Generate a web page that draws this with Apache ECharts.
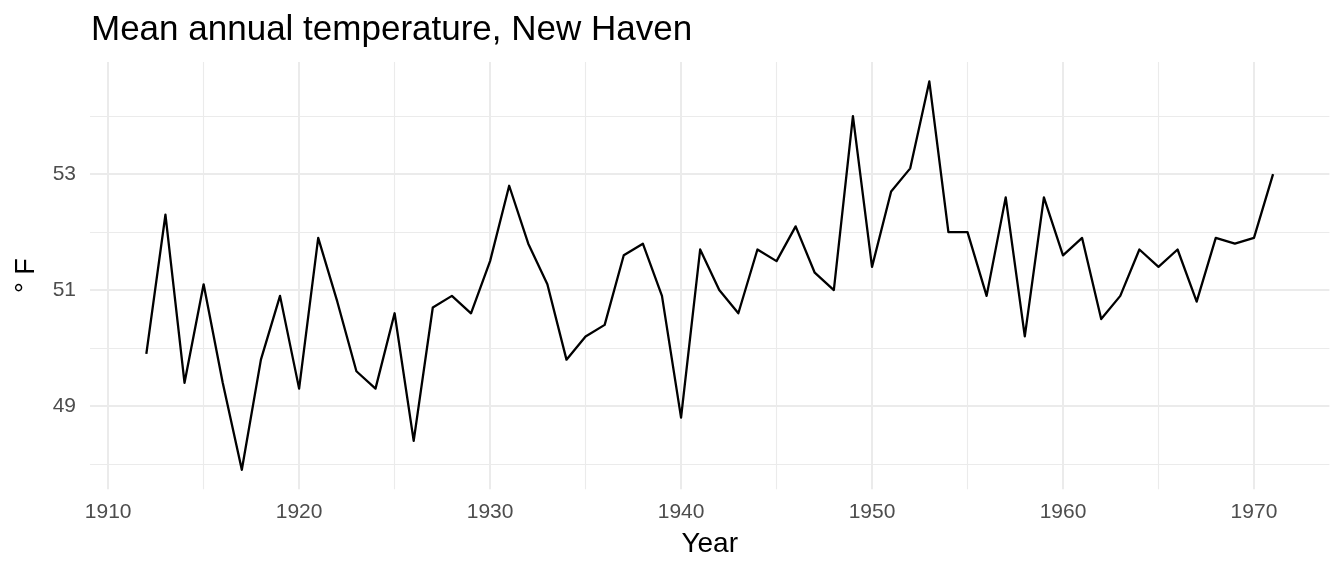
<!DOCTYPE html>
<html>
<head>
<meta charset="utf-8">
<script src="https://cdn.jsdelivr.net/npm/echarts@6/dist/echarts.min.js"></script>
<style>html,body{margin:0;padding:0;background:#fff;}#c{width:1344px;height:576px;}</style>
</head>
<body>
<div id="c"></div>
<script>
const years = [1912,1913,1914,1915,1916,1917,1918,1919,1920,1921,1922,1923,1924,1925,1926,1927,1928,1929,1930,1931,1932,1933,1934,1935,1936,1937,1938,1939,1940,1941,1942,1943,1944,1945,1946,1947,1948,1949,1950,1951,1952,1953,1954,1955,1956,1957,1958,1959,1960,1961,1962,1963,1964,1965,1966,1967,1968,1969,1970,1971];
const temps = [49.9,52.3,49.4,51.1,49.4,47.9,49.8,50.9,49.3,51.9,50.8,49.6,49.3,50.6,48.4,50.7,50.9,50.6,51.5,52.8,51.8,51.1,49.8,50.2,50.4,51.6,51.8,50.9,48.8,51.7,51.0,50.6,51.7,51.5,52.1,51.3,51.0,54.0,51.4,52.7,53.1,54.6,52.0,52.0,50.9,52.6,50.2,52.6,51.6,51.9,50.5,50.9,51.7,51.4,51.7,50.8,51.9,51.8,51.9,53.0];
const xMajor = [1910,1920,1930,1940,1950,1960,1970];
const xMinor = [1915,1925,1935,1945,1955,1965];
const yMajor = [49,51,53];
const yMinor = [48,50,52,54];

const xMin = 1909.05, xMax = 1973.95;
const yMin = 47.565, yMax = 54.935;
const FONT = 'Liberation Sans';

const chart = echarts.init(document.getElementById('c'), null, {renderer: 'canvas'});
const gridColor = '#ebebeb';
chart.setOption({
  animation: false,
  backgroundColor: '#ffffff',
  title: {
    text: 'Mean annual temperature, New Haven',
    left: 86, top: 8,
    textStyle: {fontFamily: FONT, fontSize: 35, fontWeight: 'normal', color: '#000'}
  },
  grid: {left: 90, right: 14.6, top: 62, bottom: 86.8, containLabel: false},
  xAxis: [
    {
      type: 'value', min: xMin, max: xMax,
      name: 'Year', nameLocation: 'middle', nameGap: 41,
      nameTextStyle: {fontFamily: FONT, fontSize: 28, color: '#000'},
      axisLine: {show: false},
      axisTick: {show: false, customValues: xMajor},
      axisLabel: {customValues: xMajor, formatter: v => String(v), fontFamily: FONT, fontSize: 21, color: '#4d4d4d', margin: 13},
      splitLine: {show: true, lineStyle: {color: gridColor, width: 2}}
    },
    {
      type: 'value', min: xMin, max: xMax, position: 'bottom',
      axisLine: {show: false},
      axisTick: {show: false, customValues: xMinor},
      axisLabel: {show: false, customValues: xMinor},
      splitLine: {show: true, lineStyle: {color: gridColor, width: 1.1}}
    }
  ],
  yAxis: [
    {
      type: 'value', min: yMin, max: yMax,
      name: '° F', nameLocation: 'middle', nameGap: 50, nameRotate: 90,
      nameTextStyle: {fontFamily: FONT, fontSize: 27, color: '#000'},
      axisLine: {show: false},
      axisTick: {show: false, customValues: yMajor},
      axisLabel: {customValues: yMajor, formatter: v => String(v), fontFamily: FONT, fontSize: 21, color: '#4d4d4d', margin: 14},
      splitLine: {show: true, lineStyle: {color: gridColor, width: 2}}
    },
    {
      type: 'value', min: yMin, max: yMax, position: 'left',
      axisLine: {show: false},
      axisTick: {show: false, customValues: yMinor},
      axisLabel: {show: false, customValues: yMinor},
      splitLine: {show: true, lineStyle: {color: gridColor, width: 1.1}}
    }
  ],
  series: [{
    type: 'line',
    data: years.map((y, i) => [y, temps[i]]),
    xAxisIndex: 0, yAxisIndex: 0,
    showSymbol: false, symbol: 'none',
    lineStyle: {color: '#000', width: 2.3, join: 'round'},
    z: 10
  }]
});
</script>
</body>
</html>
